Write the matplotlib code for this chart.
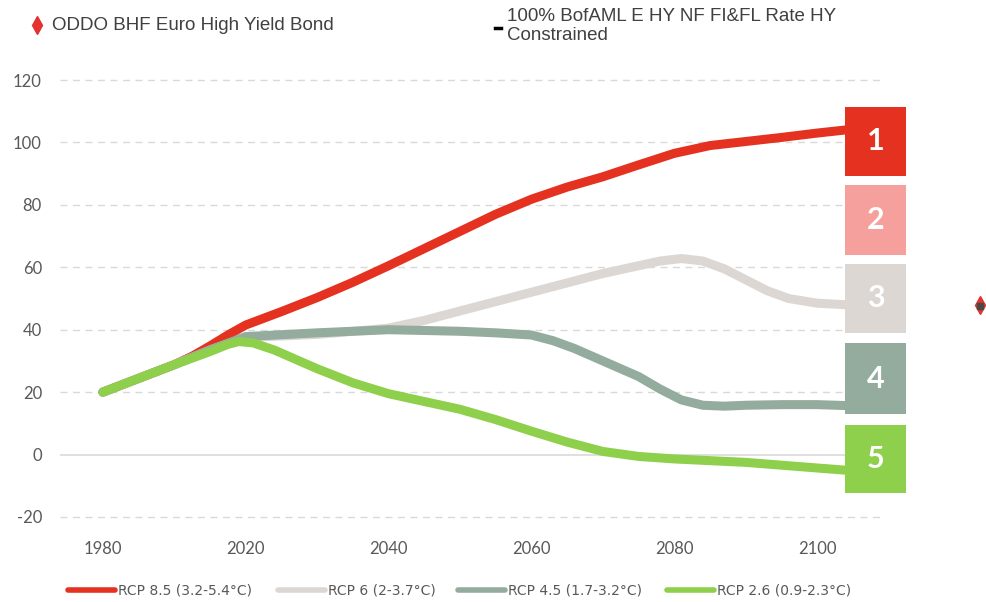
import numpy as np
import matplotlib
matplotlib.use("Agg")
import matplotlib.pyplot as plt
from matplotlib.patches import Rectangle
from matplotlib.lines import Line2D

plt.rcParams["axes.unicode_minus"] = False

# category axis: 1980, 2020, 2040, ... are equally spaced
tick_years = [1980, 2020, 2040, 2060, 2080, 2100]

years_85 = [1980, 1990, 2000, 2005, 2010, 2015, 2020, 2025, 2030, 2035, 2040, 2045, 2050, 2055, 2060,
            2065, 2070, 2075, 2080, 2085, 2090, 2095, 2100, 2104]
rcp85 = [20, 24.4, 28.8, 31.5, 34.8, 38.3, 41.5, 45.8, 50.3, 55.2, 60.5, 66, 71.5, 77, 81.8,
         85.7, 89, 92.8, 96.5, 99, 100.3, 101.6, 103, 104]

years_6 = [1980, 1990, 2000, 2010, 2020, 2030, 2040, 2045, 2050, 2055, 2060, 2065, 2070, 2075, 2078,
           2081, 2084, 2087, 2090, 2093, 2096, 2100, 2104]
rcp6 = [20, 24.4, 28.8, 33.5, 37.5, 38.5, 40.5, 43, 46, 49, 52, 55, 58, 60.5, 62,
        62.8, 62, 59.5, 56, 52.5, 50, 48.5, 48]

years_45 = [1980, 1990, 2000, 2010, 2020, 2030, 2040, 2050, 2055, 2060, 2063, 2066, 2070, 2075, 2078,
            2081, 2084, 2087, 2090, 2095, 2100, 2104]
rcp45 = [20, 24.4, 28.8, 33.5, 37.8, 39, 40, 39.5, 39, 38.3, 36.5, 34, 30, 25, 21,
         17.5, 15.8, 15.5, 15.8, 16, 16, 15.7]

years_26 = [1980, 1990, 2000, 2010, 2015, 2018, 2021, 2024, 2027, 2030, 2035, 2040, 2045, 2050, 2055,
            2060, 2065, 2070, 2075, 2080, 2090, 2100, 2104]
rcp26 = [20, 24.4, 28.8, 33, 35.3, 36.2, 35.8, 33.5, 30.5, 27.5, 23, 19.5, 17, 14.5, 11.2,
         7.5, 4, 1, -0.6, -1.4, -2.5, -4.3, -5]

labels = ["RCP 8.5 (3.2-5.4°C)", "RCP 6 (2-3.7°C)", "RCP 4.5 (1.7-3.2°C)", "RCP 2.6 (0.9-2.3°C)"]
colors = ["#E5311F", "#DCD7D3", "#93AC9D", "#8ED04B"]
box_colors = ["#E5311F", "#F5A09D", "#DCD7D3", "#93AC9D", "#8ED04B"]
box_numbers = ["1", "2", "3", "4", "5"]


def to_pos(years):
    y = np.asarray(years, dtype=float)
    return np.where(y < 2020, (y - 1980) / 40.0, 1 + (y - 2020) / 20.0)


W, H = 986, 602
fig = plt.figure(figsize=(W / 100, H / 100), dpi=100)
ax = fig.add_axes([60 / W, (H - 532.6) / H, 820 / W, (532.6 - 64.4) / H])

ax.set_xlim(-0.30, 5.44)
ax.set_ylim(-25, 125)
ax.set_yticks(range(-20, 121, 20))
ax.set_xticks(range(len(tick_years)))
ax.set_xticklabels([str(t) for t in tick_years])
for v in range(-20, 121, 20):
    if v == 0:
        ax.axhline(v, color="#D9D9D9", lw=1.2, zorder=0)
    else:
        ax.axhline(v, color="#D9D9D9", lw=1.0, ls=(0, (5, 4)), zorder=0)

for s in ax.spines.values():
    s.set_visible(False)
ax.tick_params(length=0, labelsize=12, labelcolor="#595959")
ax.tick_params(axis="y", pad=13)
ax.tick_params(axis="x", pad=6)
for lab in ax.get_xticklabels() + ax.get_yticklabels():
    lab.set_fontfamily("Lato")

series = [(years_85, rcp85), (years_6, rcp6), (years_45, rcp45), (years_26, rcp26)]
for i, (yr, vals) in enumerate(series):
    ax.plot(to_pos(yr), vals, color=colors[i], lw=6.5, solid_capstyle="round",
            solid_joinstyle="round", zorder=2 + i)

# numbered boxes on the right
box_rows = [(107, 176), (185, 255), (264, 333), (343, 414), (425, 493)]
for (top, bot), c, n in zip(box_rows, box_colors, box_numbers):
    fig.add_artist(Rectangle((845 / W, (H - bot) / H), 61 / W, (bot - top) / H,
                             transform=fig.transFigure, facecolor=c, edgecolor="none", zorder=5))
    fig.text(876 / W, (H - (top + bot) / 2) / H, n, color="white", fontsize=22,
             fontweight="bold", family="Lato", ha="center", va="center", zorder=6)

# bottom legend
leg_x = [68, 278, 458, 667]
for x0, c, lab in zip(leg_x, colors, labels):
    fig.add_artist(Line2D([x0 / W, (x0 + 47) / W], [(H - 590) / H] * 2, color=c, lw=4,
                          solid_capstyle="round", transform=fig.transFigure))
    fig.text((x0 + 50) / W, (H - 590) / H, lab, fontsize=10, color="#595959",
             family="DejaVu Sans", ha="left", va="center")

# top legend
fig.add_artist(Line2D([37 / W], [(H - 25) / H], marker="d", markersize=9, color="#E5312F",
                      transform=fig.transFigure))
fig.text(52 / W, (H - 25) / H, "ODDO BHF Euro High Yield Bond", fontsize=13.5,
         color="#404040", family="Liberation Sans", ha="left", va="center")
fig.add_artist(Line2D([495 / W, 501 / W], [(H - 28) / H] * 2, color="black", lw=2.5,
                      transform=fig.transFigure))
fig.text(507 / W, (H - 26) / H, "100% BofAML E HY NF FI&FL Rate HY\nConstrained", fontsize=13.5,
         color="#404040", family="Liberation Sans", ha="left", va="center", linespacing=1.1)

# stray marker on the right edge
fig.add_artist(Line2D([980 / W], [(H - 305) / H], marker="d", markersize=9, color="#E5312F",
                      transform=fig.transFigure))
fig.add_artist(Line2D([980 / W], [(H - 306) / H], marker="s", markersize=5, color="#4A4A44",
                      transform=fig.transFigure))

fig.savefig("out.png", dpi=100)
